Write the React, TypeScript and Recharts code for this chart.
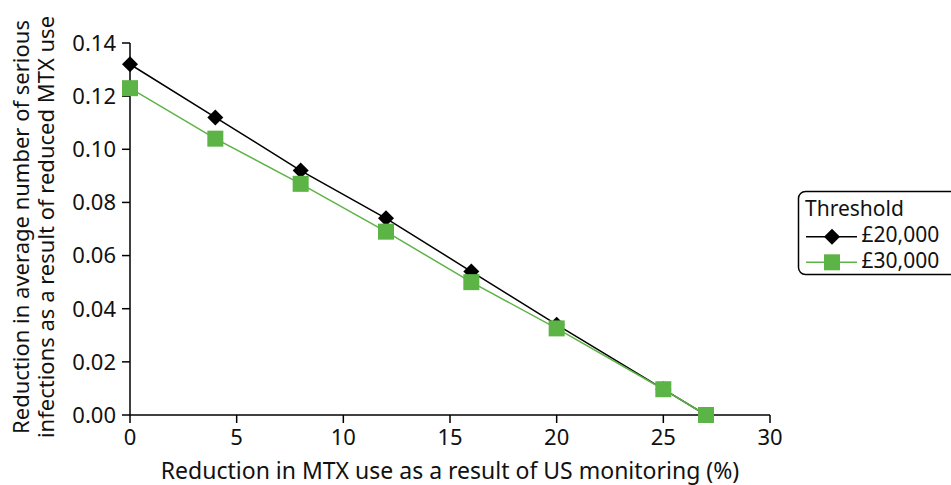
import React from "react";
import { LineChart, Line, XAxis, YAxis, Label } from "recharts";

const xValues = [0, 4, 8, 12, 16, 20, 25, 27];
const threshold20k = [0.132, 0.112, 0.092, 0.074, 0.054, 0.034, 0.0097, 0.0];
const threshold30k = [0.123, 0.104, 0.087, 0.069, 0.050, 0.0326, 0.0097, 0.0];
const xTicks = [0, 5, 10, 15, 20, 25, 30];
const yTicks = [0, 0.02, 0.04, 0.06, 0.08, 0.1, 0.12, 0.14];
const seriesNames = ["£20,000", "£30,000"];
const legendTitle = "Threshold";

const GREEN = "#5cb346";
const FONT = "'Noto Sans', sans-serif";
const FS = 22;
const LFS = 21;

const data = xValues.map((x, i) => ({ x, a: threshold20k[i], b: threshold30k[i] }));

const Diamond = (props: any) => {
  const { cx, cy } = props;
  if (cx == null || cy == null) return null;
  const r = 8;
  return (
    <path
      d={`M${cx},${cy - r} L${cx + r},${cy} L${cx},${cy + r} L${cx - r},${cy} Z`}
      fill="#000"
    />
  );
};

const Square = (props: any) => {
  const { cx, cy } = props;
  if (cx == null || cy == null) return null;
  const s = 8;
  return <rect x={cx - s} y={cy - s} width={2 * s} height={2 * s} fill={GREEN} />;
};

const YLabel = () => {
  const cy = 227;
  return (
    <g fontFamily={FONT} fontSize={FS} fill="#111">
      <text transform={`rotate(-90, 29, ${cy})`} x={29} y={cy} textAnchor="middle">
        Reduction in average number of serious
      </text>
      <text transform={`rotate(-90, 54, ${cy})`} x={54} y={cy} textAnchor="middle">
        infections as a result of reduced MTX use
      </text>
    </g>
  );
};

const LegendBox = () => (
  <svg
    width={160}
    height={100}
    style={{ position: "absolute", left: 790, top: 185, overflow: "visible" }}
  >
    <rect x={8.5} y={6.5} width={160} height={83} rx={7} ry={7} fill="#fff" stroke="#000" strokeWidth={1.5} />
    <text x={15} y={30.5} fontFamily={FONT} fontSize={LFS} fill="#111">
      {legendTitle}
    </text>
    <line x1={16} y1={51.7} x2={67} y2={51.7} stroke="#000" strokeWidth={1.5} />
    <path d="M42,43.7 L50,51.7 L42,59.7 L34,51.7 Z" fill="#000" />
    <text x={71.5} y={56.7} fontFamily={FONT} fontSize={LFS} fill="#111">
      {seriesNames[0]}
    </text>
    <line x1={16} y1={77.3} x2={67} y2={77.3} stroke={GREEN} strokeWidth={1.5} />
    <rect x={34} y={69.3} width={16} height={16} fill={GREEN} />
    <text x={71.5} y={83} fontFamily={FONT} fontSize={LFS} fill="#111">
      {seriesNames[1]}
    </text>
  </svg>
);

export default function App() {
  return (
    <div style={{ position: "absolute", left: 0, top: 0, width: 951, height: 485, background: "#fff", overflow: "hidden" }}>
      <LineChart
        width={951}
        height={485}
        data={data}
        margin={{ top: 43, right: 181, bottom: 0, left: 0 }}
      >
        <XAxis
          dataKey="x"
          type="number"
          domain={[0, 30]}
          ticks={xTicks}
          height={70}
          tickSize={8}
          tickMargin={6}
          tick={{ fill: "#111", fontFamily: FONT, fontSize: FS }}
          tickLine={{ stroke: "#000", strokeWidth: 1.5 }}
          axisLine={{ stroke: "#000", strokeWidth: 1.5 }}
        >
          <Label
            value="Reduction in MTX use as a result of US monitoring (%)"
            position="insideBottom"
            offset={6}
            style={{ fill: "#111", fontFamily: FONT, fontSize: 23 }}
          />
        </XAxis>
        <YAxis
          type="number"
          domain={[0, 0.14]}
          ticks={yTicks}
          width={130}
          tickSize={8}
          tickMargin={6}
          tickFormatter={(v: number) => v.toFixed(2)}
          tick={{ fill: "#111", fontFamily: FONT, fontSize: FS }}
          tickLine={{ stroke: "#000", strokeWidth: 1.5 }}
          axisLine={{ stroke: "#000", strokeWidth: 1.5 }}
        >
          <Label content={<YLabel />} />
        </YAxis>
        <Line
          dataKey="a"
          stroke="#000"
          strokeWidth={1.5}
          dot={<Diamond />}
          activeDot={false}
          isAnimationActive={false}
        />
        <Line
          dataKey="b"
          stroke={GREEN}
          strokeWidth={1.5}
          dot={<Square />}
          activeDot={false}
          isAnimationActive={false}
        />
      </LineChart>
      <LegendBox />
    </div>
  );
}
